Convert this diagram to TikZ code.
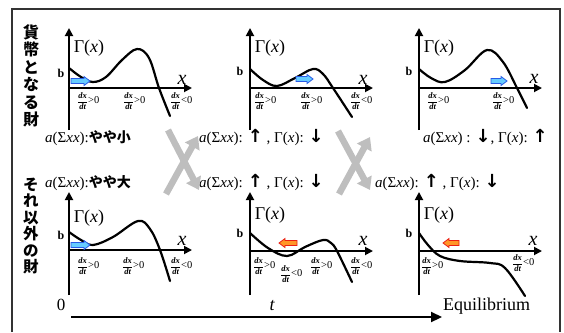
\documentclass[tikz,border=0pt]{standalone}
\usepackage{amsmath}
\usepackage{fontspec}
\setmainfont{Liberation Serif}
\newfontfamily\jpf{Noto Sans CJK JP}
\newfontfamily\symf{DejaVu Sans}
\usetikzlibrary{arrows.meta}
\definecolor{xgray}{RGB}{190,190,190}
\definecolor{bfill}{RGB}{102,204,255}
\definecolor{bline}{RGB}{40,90,230}
\definecolor{rfill}{RGB}{255,150,40}
\definecolor{rline}{RGB}{235,30,20}
\tikzset{
  axisline/.style={line width=1.8pt,-{Triangle[length=8pt,width=8pt]}},
  curveline/.style={line width=2.2pt,line join=round,line cap=round},
  frameline/.style={line width=1.1pt,draw=black!80},
  gam/.style={inner sep=0pt,font=\fontsize{18}{18}\selectfont},
  xlab/.style={inner sep=0pt,font=\fontsize{20}{20}\selectfont\itshape},
  blab/.style={inner sep=0pt,font=\fontsize{12}{12}\selectfont\bfseries},
  dlab/.style={inner sep=0pt,anchor=west,font=\fontsize{8.5}{9}\selectfont},
  alab/.style={inner sep=0pt,anchor=west,font=\fontsize{15}{15}\selectfont},
  vtext/.style={inner sep=0pt,align=center,font=\jpf\bfseries\fontsize{16}{17.5}\selectfont},
  bluearrow/.style={fill=bfill,draw=bline,line width=0.8pt,line join=miter},
  redarrow/.style={fill=rfill,draw=rline,line width=0.8pt,line join=miter},
  grayx/.style={draw=xgray,line width=6.5pt,-{Triangle[length=12pt,width=16pt]}},
  taxis/.style={line width=2.2pt,-{Triangle[length=11pt,width=10pt]}},
}
\newcommand{\upa}{{\symf\bfseries\fontsize{18}{15}\selectfont ↑}}
\newcommand{\dna}{{\symf\bfseries\fontsize{18}{15}\selectfont ↓}}
\newcommand{\dxdt}[1]{$\dfrac{\textit{\textbf{dx}}}{\textit{\textbf{dt}}}$\fontsize{10.5}{10}\selectfont#1}
% name, x0, y of x-axis, ytop, ybottom, xend
\newcommand{\panelaxes}[6]{%
  \coordinate (#1yt) at (#2,#4);
  \coordinate (#1yb) at (#2,#5);
  \coordinate (#1xs) at (#2,#3);
  \coordinate (#1xe) at (#6,#3);
  \draw[axisline] (#1yb) -- (#1yt);
  \draw[axisline] (#1xs) -- (#1xe);
}
% style, tail x, tip x, y, direction (1 right, -1 left)
\newcommand{\blockarrow}[5]{%
  \path[#1] (#2,{#4-2.5}) -- ({#3-6*#5},{#4-2.5}) -- ({#3-6*#5},{#4-4.5}) -- (#3,#4)
    -- ({#3-6*#5},{#4+4.5}) -- ({#3-6*#5},{#4+2.5}) -- (#2,{#4+2.5}) -- cycle;
}
\begin{document}
\begin{tikzpicture}[x=1pt,y=-1pt]
\useasboundingbox (0,0) rectangle (564,332);
% frame
\coordinate (fbl) at (12,332);
\coordinate (ftl) at (12,9);
\coordinate (ftr) at (560,9);
\coordinate (fbr) at (560,332);
\draw[frameline] (fbl) -- (ftl) -- (ftr) -- (fbr);

% vertical labels
\node[vtext] (v1) at (31,76) {貨\\幣\\と\\な\\る\\財};
\node[vtext,font=\jpf\bfseries\fontsize{15.5}{16.4}\selectfont] (v2) at (31,226) {そ\\れ\\以\\外\\の\\財};

% ---------- panel 1 ----------
\panelaxes{p1}{69}{88}{28}{130}{192}
\draw[curveline] plot[smooth,tension=0.6] coordinates {(69,68) (81,77) (93,82) (106,77) (122,60) (137,49) (149,58) (159,88) (170,116)};
\node[gam] (g1) at (89,48) {Γ(\textit{x})};
\node[xlab] (x1) at (182,80) {x};
\node[blab] (b1) at (61,73) {b};
\blockarrow{bluearrow}{71}{90}{81}{1}
\node[dlab] (d11) at (77,101) {\dxdt{>0}};
\node[dlab] (d12) at (123,101) {\dxdt{>0}};
\node[dlab] (d13) at (170,101) {\dxdt{<0}};
\node[alab] (a1) at (45,138) {\textit{a}(Σ\textit{xx}):{\jpf\bfseries\fontsize{14}{14}\selectfont やや小}};

% ---------- panel 2 ----------
\panelaxes{p2}{250}{88}{28}{130}{373}
\draw[curveline] plot[smooth,tension=0.6] coordinates {(250,69) (263,80) (277,86) (295,78) (313,69) (323,74) (333,88) (352,117)};
\node[gam] (g2) at (270,48) {Γ(\textit{x})};
\node[xlab] (x2) at (363,80) {x};
\node[blab] (b2) at (240,71) {b};
\blockarrow{bluearrow}{296}{313}{79}{1}
\node[dlab] (d21) at (254,101) {\dxdt{>0}};
\node[dlab] (d22) at (300,101) {\dxdt{>0}};
\node[dlab] (d23) at (350,101) {\dxdt{<0}};
\node[alab] (a2) at (199,138) {\textit{a}(Σ\textit{xx}): \upa\ , Γ(\textit{x}): \dna};

% ---------- panel 3 ----------
\panelaxes{p3}{419}{88}{28}{130}{542}
\draw[curveline] plot[smooth,tension=0.6] coordinates {(419,69) (431,78) (445,82) (465,70) (487,50) (503,62) (517,88) (527,108)};
\node[gam] (g3) at (439,48) {Γ(\textit{x})};
\node[xlab] (x3) at (534,79) {x};
\node[blab] (b3) at (409,71) {b};
\blockarrow{bluearrow}{491}{507}{81}{1}
\node[dlab] (d31) at (427,101) {\dxdt{>0}};
\node[dlab] (d32) at (492,101) {\dxdt{>0}};
\node[alab] (a3) at (423,138) {\textit{a}(Σ\textit{xx}) : \dna, Γ(\textit{x}): \upa};

% ---------- panel 4 ----------
\panelaxes{p4}{69}{250}{192}{295}{192}
\draw[curveline] plot[smooth,tension=0.6] coordinates {(69,232) (81,240) (93,245) (113,237) (138,221) (150,229) (160,250) (170,281)};
\node[gam] (g4) at (89,218) {Γ(\textit{x})};
\node[xlab] (x4) at (182,241) {x};
\node[blab] (b4) at (61,235) {b};
\blockarrow{bluearrow}{71}{90}{245}{1}
\node[dlab] (d41) at (77,266) {\dxdt{>0}};
\node[dlab] (d42) at (122,266) {\dxdt{>0}};
\node[dlab] (d43) at (170,266) {\dxdt{<0}};
\node[alab] (a4) at (45,183) {\textit{a}(Σ\textit{xx}):{\jpf\bfseries\fontsize{14}{14}\selectfont やや大}};

% ---------- panel 5 ----------
\panelaxes{p5}{250}{251}{192}{295}{373}
\draw[curveline] plot[smooth,tension=0.6] coordinates {(250,233) (268,248) (287,256) (305,247) (323,240) (331,243) (337,251) (352,282)};
\node[gam] (g5) at (270,215) {Γ(\textit{x})};
\node[xlab] (x5) at (363,241) {x};
\node[blab] (b5) at (240,233) {b};
\blockarrow{redarrow}{297}{279}{243}{-1}
\node[dlab] (d51) at (253,266) {\dxdt{>0}};
\node[dlab] (d52) at (280,274) {\dxdt{<0}};
\node[dlab] (d53) at (310,266) {\dxdt{>0}};
\node[dlab] (d54) at (350,266) {\dxdt{<0}};
\node[alab] (a5) at (199,183) {\textit{a}(Σ\textit{xx}): \upa\ , Γ(\textit{x}): \dna};

% ---------- panel 6 ----------
\panelaxes{p6}{419}{251}{192}{295}{542}
\draw[curveline] plot[smooth,tension=0.6] coordinates {(419,233) (428,245) (440,256) (460,261) (490,263) (505,268) (525,296)};
\node[gam] (g6) at (439,215) {Γ(\textit{x})};
\node[xlab] (x6) at (533,241) {x};
\node[blab] (b6) at (409,233) {b};
\blockarrow{redarrow}{459}{443}{243}{-1}
\node[dlab] (d61) at (421,266) {\dxdt{>0}};
\node[dlab] (d62) at (512,263) {\dxdt{<0}};
\node[alab] (a6) at (375,183) {\textit{a}(Σ\textit{xx}): \upa\ , Γ(\textit{x}): \dna};

% ---------- gray crossing arrows ----------
\coordinate (xa1s) at (168,130);
\coordinate (xa1e) at (199,190);
\coordinate (xb1s) at (166,194);
\coordinate (xb1e) at (198,136);
\draw[grayx] (xa1s) -- (xa1e);
\draw[grayx] (xb1s) -- (xb1e);
\coordinate (xa2s) at (338,131);
\coordinate (xa2e) at (370,190);
\coordinate (xb2s) at (339,194);
\coordinate (xb2e) at (370,137);
\draw[grayx] (xa2s) -- (xa2e);
\draw[grayx] (xb2s) -- (xb2e);

% ---------- time axis ----------
\node[inner sep=0pt,font=\fontsize{17}{17}\selectfont] (zero) at (61,305) {0};
\coordinate (ts) at (71,317);
\coordinate (te) at (442,317);
\draw[taxis] (ts) -- (te);
\node[inner sep=0pt,font=\fontsize{18}{18}\selectfont\itshape] (tl) at (272,306) {t};
\node[inner sep=0pt,anchor=west,font=\fontsize{18}{18}\selectfont] (eq) at (443,306) {Equilibrium};
\end{tikzpicture}
\end{document}
